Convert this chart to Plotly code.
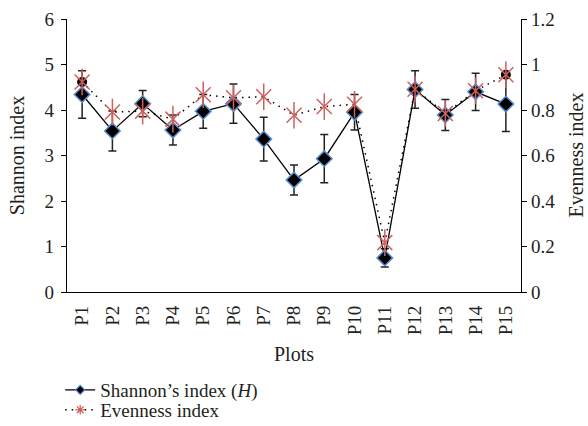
import plotly.graph_objects as go

plots = [f"P{i}" for i in range(1, 16)]
shannon = [4.34, 3.54, 4.14, 3.56, 3.97, 4.14, 3.36, 2.46, 2.93, 3.95, 0.75, 4.45, 3.89, 4.40, 4.13]
shannon_err = [0.52, 0.44, 0.29, 0.33, 0.37, 0.43, 0.48, 0.33, 0.53, 0.39, 0.20, 0.41, 0.34, 0.41, 0.60]
evenness = [0.923, 0.791, 0.795, 0.760, 0.867, 0.854, 0.858, 0.777, 0.815, 0.825, 0.217, 0.891, 0.785, 0.885, 0.955]
evenness_dot_plots = ["P1", "P15"]
evenness_dot_vals = [0.923, 0.955]

font_color = "#231f20"
serif = "Liberation Serif"
red = "#d0605e"
blue = "#5b8fd0"

fig = go.Figure()

# Shannon series
fig.add_trace(go.Scatter(
    x=plots, y=shannon, mode="lines+markers", showlegend=False,
    line=dict(color="black", width=1.3),
    marker=dict(symbol="diamond", size=12, color="black", line=dict(color=blue, width=1.5)),
    error_y=dict(type="data", array=shannon_err, visible=True, color="#222222", thickness=1.5, width=4),
))

# Evenness series
fig.add_trace(go.Scatter(
    x=evenness_dot_plots, y=evenness_dot_vals, mode="markers", yaxis="y2",
    marker=dict(symbol="circle", size=10, color="black"), showlegend=False, hoverinfo="skip",
))
fig.add_trace(go.Scatter(
    x=plots, y=evenness, mode="lines+markers", yaxis="y2", showlegend=False,
    line=dict(color="black", width=1.5, dash="1.5px,5px"),
    marker=dict(symbol="x-thin-open", size=15, color=red, line=dict(color=red, width=1.5)),
))
fig.add_trace(go.Scatter(
    x=plots, y=evenness, mode="markers", yaxis="y2", showlegend=False, hoverinfo="skip",
    marker=dict(symbol="line-ns-open", size=19, color=red, line=dict(color=red, width=1.5)),
))

# Legend entries
fig.add_trace(go.Scatter(
    x=[None], y=[None], mode="lines+markers", name="Shannon’s index (<i>H</i>)", legend="legend",
    line=dict(color="black", width=1.3),
    marker=dict(symbol="diamond", size=7, color="black", line=dict(color=blue, width=1.2)),
))
fig.add_trace(go.Scatter(
    x=[None], y=[None], mode="lines+markers", name="Evenness index", yaxis="y2", legend="legend2",
    line=dict(color="black", width=1.5, dash="1.5px,5px"),
    marker=dict(symbol="asterisk-open", size=8, color=red, line=dict(color=red, width=1.3)),
))

legend_common = dict(xanchor="left", yanchor="middle", orientation="v", itemwidth=30,
                     font=dict(family=serif, size=19, color=font_color),
                     bgcolor="rgba(0,0,0,0)")

fig.update_layout(
    width=588, height=426,
    margin=dict(l=67, r=67, t=19, b=134, autoexpand=False),
    paper_bgcolor="white", plot_bgcolor="white",
    font=dict(family=serif, size=19, color=font_color),
    showlegend=True,
    legend=dict(x=-0.015, y=-0.359, **legend_common),
    legend2=dict(x=-0.015, y=-0.432, **legend_common),
    xaxis=dict(
        categoryorder="array", categoryarray=plots, range=[-0.5, 14.5],
        showline=True, linecolor="black", linewidth=1.3, ticks="", tickangle=-90,
        showgrid=False, zeroline=False, mirror=False, ticklabelstandoff=5, automargin=False,
        title=dict(text="Plots", font=dict(size=20), standoff=12),
        tickfont=dict(size=19),
    ),
    yaxis=dict(
        range=[0, 6], dtick=1, showline=True, linecolor="black", linewidth=1.3,
        ticks="outside", ticklen=5, tickcolor="black", showgrid=False, zeroline=False,
        ticklabelstandoff=3, automargin=False,
        title=dict(text="Shannon index", font=dict(size=20), standoff=14),
        tickfont=dict(size=19),
    ),
    yaxis2=dict(
        range=[0, 1.2], dtick=0.2, overlaying="y", side="right", showline=True,
        linecolor="black", linewidth=1.3, ticks="outside", ticklen=5, tickcolor="black",
        showgrid=False, zeroline=False, automargin=False,
        tickfont=dict(size=19),
    ),
    annotations=[dict(
        text="Evenness index", xref="paper", yref="paper", x=1.119, y=0.5,
        xanchor="center", yanchor="middle", textangle=-90, showarrow=False,
        font=dict(family=serif, size=20, color=font_color),
    )],
)

fig.write_html("out.html", config={"displayModeBar": False},
               post_script="document.body.style.margin='0';")
